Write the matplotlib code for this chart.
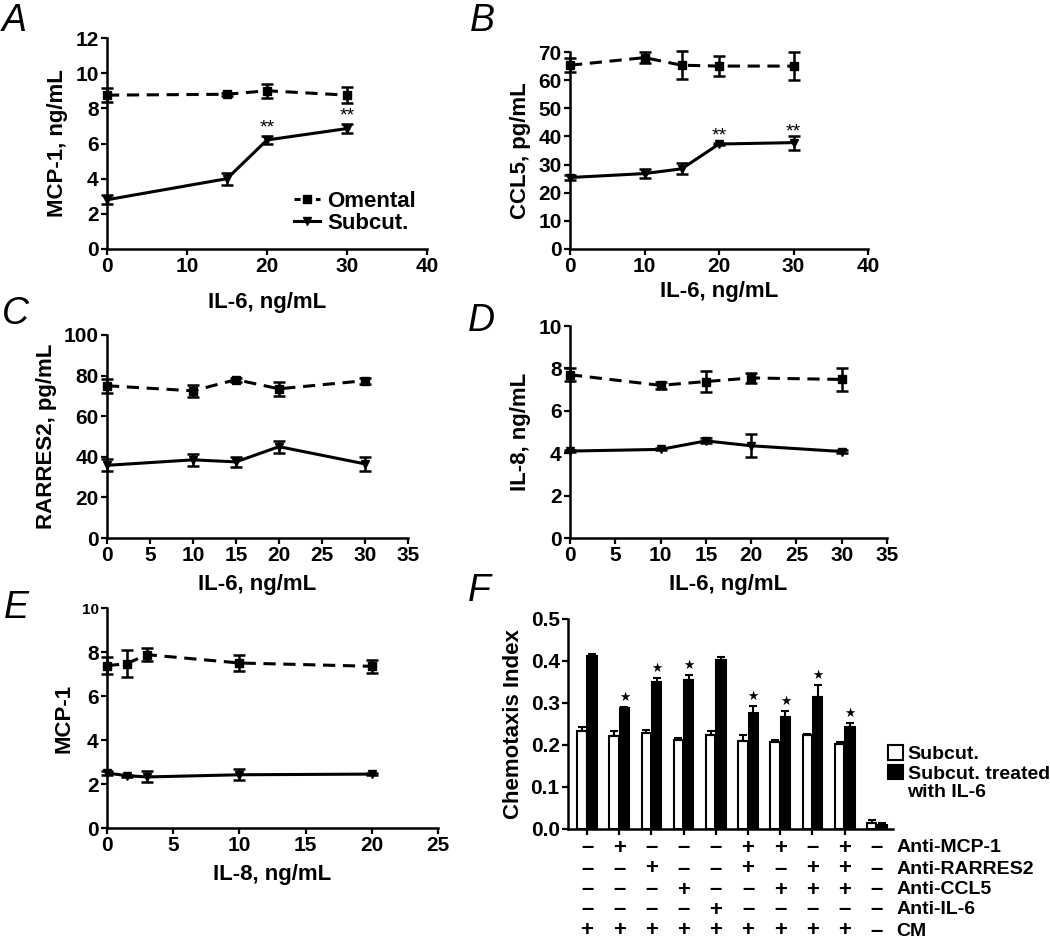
import matplotlib
matplotlib.use("Agg")
import matplotlib.pyplot as plt
import matplotlib.transforms as mtrans
from matplotlib.lines import Line2D
from matplotlib.patches import Patch
import numpy as np

plt.rcParams['font.family'] = ['Liberation Sans', 'DejaVu Sans']
plt.rcParams['font.weight'] = 'bold'
plt.rcParams['axes.labelweight'] = 'bold'

# panel A
a_x = [0, 15, 20, 30]
a_om = [8.75, 8.8, 9.0, 8.75]
a_om_err = [0.4, 0.1, 0.4, 0.45]
a_sc = [2.8, 4.0, 6.2, 6.85]
a_sc_err = [0.25, 0.35, 0.2, 0.25]

# panel B
b_x = [0, 10, 15, 20, 30]
b_om = [65.3, 68.0, 65.3, 65.0, 65.0]
b_om_err = [2.5, 2.0, 5.0, 3.5, 5.0]
b_sc = [25.4, 26.8, 28.5, 37.3, 37.8]
b_sc_err = [1.0, 1.5, 2.0, 0.5, 2.5]

# panel C
c_x = [0, 10, 15, 20, 30]
c_om = [75, 72.5, 78, 73.5, 77.5]
c_om_err = [3.5, 3.0, 1.0, 3.5, 1.5]
c_sc = [35.8, 38.5, 37.5, 45, 36.5]
c_sc_err = [3.0, 3.0, 2.5, 3.0, 3.5]

# panel D
d_x = [0, 10, 15, 20, 30]
d_om = [7.7, 7.2, 7.38, 7.55, 7.48]
d_om_err = [0.3, 0.15, 0.5, 0.25, 0.55]
d_sc = [4.1, 4.18, 4.58, 4.35, 4.08]
d_sc_err = [0.05, 0.05, 0.12, 0.55, 0.05]

# panel E
e_x = [0, 1.5, 3, 10, 20]
e_om = [7.38, 7.47, 7.88, 7.5, 7.35]
e_om_err = [0.4, 0.6, 0.3, 0.35, 0.3]
e_sc = [2.5, 2.38, 2.32, 2.42, 2.45]
e_sc_err = [0.1, 0.05, 0.25, 0.25, 0.05]

# panel F
f_subcut = [0.234, 0.221, 0.229, 0.211, 0.223, 0.210, 0.206, 0.224, 0.202, 0.014]
f_subcut_err = [0.008, 0.012, 0.006, 0.005, 0.011, 0.014, 0.006, 0.002, 0.004, 0.008]
f_il6 = [0.412, 0.287, 0.351, 0.355, 0.402, 0.276, 0.266, 0.315, 0.242, 0.010]
f_il6_err = [0.004, 0.004, 0.009, 0.011, 0.008, 0.016, 0.016, 0.028, 0.011, 0.005]
f_star = [False, True, True, True, False, True, True, True, True, False]
f_rows = ["Anti-MCP-1", "Anti-RARRES2", "Anti-CCL5", "Anti-IL-6", "CM"]
f_table = [
    "-+---++-+-",
    "--+--+-++-",
    "---+--+++-",
    "----+-----",
    "+++++++++-",
]

W, H = 1050, 940
fig = plt.figure(figsize=(W / 100, H / 100), dpi=100)

TICK_FS = 15
LABEL_FS = 16


def px_axes(l, t, r, b):
    return fig.add_axes([l / W, 1 - b / H, (r - l) / W, (b - t) / H])


def style(ax):
    for s in ["top", "right"]:
        ax.spines[s].set_visible(False)
    for s in ["left", "bottom"]:
        ax.spines[s].set_linewidth(1.8)
    ax.tick_params(direction="out", length=4, width=1.6, labelsize=TICK_FS, pad=2)
    for lab in ax.get_xticklabels() + ax.get_yticklabels():
        lab.set_fontweight("bold")


def line_panel(ax, x, om, om_err, sc, sc_err, xlim, ylim, yticks, xticks, ylabel, xlabel, xpad):
    ax.errorbar(x, om, yerr=om_err, color="black", lw=2.2, ls=(0, (4, 2.5)),
                marker="s", ms=5.5, capsize=4, elinewidth=1.8, capthick=1.8,
                clip_on=False)
    ax.errorbar(x, sc, yerr=sc_err, color="black", lw=2.2, ls="-",
                marker="v", ms=6, capsize=4, elinewidth=1.8, capthick=1.8,
                clip_on=False)
    ax.set_xlim(*xlim)
    ax.set_ylim(*ylim)
    ax.set_xticks(xticks)
    ax.set_yticks(yticks)
    ax.set_ylabel(ylabel, fontsize=LABEL_FS, fontweight="bold", labelpad=5)
    ax.set_xlabel(xlabel, fontsize=LABEL_FS, fontweight="bold", labelpad=xpad)
    style(ax)


axA = px_axes(107, 38, 427, 249)
line_panel(axA, a_x, a_om, a_om_err, a_sc, a_sc_err, (0, 40), (0, 12),
           range(0, 13, 2), range(0, 41, 10), "MCP-1, ng/mL", "IL-6, ng/mL", 11)
axA.text(20, 6.6, "**", ha="center", fontsize=14, fontweight="normal")
axA.text(30, 7.3, "**", ha="center", fontsize=14, fontweight="normal")
leg_handles = [Line2D([], [], color="black", lw=2.2, ls=(0, (2, 1.5)), marker="s", ms=5.5),
               Line2D([], [], color="black", lw=2.2, ls="-", marker="v", ms=6)]
leg = axA.legend(leg_handles, ["Omental", "Subcut."], loc="lower right",
                 bbox_to_anchor=(1.0, 0.02), frameon=False,
                 fontsize=LABEL_FS, handlelength=1.2, handletextpad=0.3,
                 labelspacing=0.05, borderpad=0)
for t in leg.get_texts():
    t.set_fontweight("bold")

axB = px_axes(570, 52, 868, 249)
line_panel(axB, b_x, b_om, b_om_err, b_sc, b_sc_err, (0, 40), (0, 70),
           range(0, 71, 10), range(0, 41, 10), "CCL5, pg/mL", "IL-6, ng/mL", 3)
axB.text(20, 38.5, "**", ha="center", fontsize=14, fontweight="normal")
axB.text(30, 40, "**", ha="center", fontsize=14, fontweight="normal")

axC = px_axes(107, 335, 408, 538)
line_panel(axC, c_x, c_om, c_om_err, c_sc, c_sc_err, (0, 35), (0, 100),
           range(0, 101, 20), range(0, 36, 5), "RARRES2, pg/mL", "IL-6, ng/mL", 6)

axD = px_axes(570, 326, 887, 538)
line_panel(axD, d_x, d_om, d_om_err, d_sc, d_sc_err, (0, 35), (0, 10),
           range(0, 11, 2), range(0, 36, 5), "IL-8, ng/mL", "IL-6, ng/mL", 6)

axE = px_axes(107, 608, 438, 828)
line_panel(axE, e_x, e_om, e_om_err, e_sc, e_sc_err, (0, 25), (0, 10),
           range(0, 11, 2), range(0, 26, 5), "MCP-1", "IL-8, ng/mL", 6)
axE.get_yticklabels()[-1].set_fontsize(11)

# panel F
axF = px_axes(568, 619, 893, 829)
idx = np.arange(len(f_subcut))
bw = 0.29
axF.bar(idx - 0.16, f_subcut, bw, yerr=[np.zeros(len(f_subcut)), f_subcut_err],
        color="white", edgecolor="black", linewidth=1.5, capsize=3,
        error_kw=dict(elinewidth=1.5, capthick=1.5))
axF.bar(idx + 0.16, f_il6, bw, yerr=[np.zeros(len(f_il6)), f_il6_err],
        color="black", edgecolor="black", linewidth=1.5, capsize=3,
        error_kw=dict(elinewidth=1.5, capthick=1.5))
for i in idx:
    if f_star[i]:
        axF.text(i + 0.16, f_il6[i] + f_il6_err[i] + 0.007, "★", ha="center",
                 va="bottom", fontsize=9, family=["DejaVu Sans"])
axF.set_xlim(-0.59, 9.5)
axF.set_ylim(0, 0.5)
axF.set_xticks(idx[:-1])
axF.set_xticklabels([])
axF.set_yticks(np.arange(0, 0.51, 0.1))
axF.set_yticklabels(["%.1f" % v for v in np.arange(0, 0.51, 0.1)])
axF.set_ylabel("Chemotaxis Index", fontsize=LABEL_FS, fontweight="bold", labelpad=5)
style(axF)

tr = mtrans.blended_transform_factory(axF.transData, fig.transFigure)
row_y = [848, 869, 890, 910, 931]
for r, (name, signs) in enumerate(zip(f_rows, f_table)):
    yy = 1 - row_y[r] / H
    for i, s in enumerate(signs):
        axF.text(i, yy, "+" if s == "+" else "–", transform=tr, ha="center",
                 va="center", fontsize=16, fontweight="bold", clip_on=False)
    axF.text(9.6, yy, name, transform=tr, ha="left", va="center",
             fontsize=14, fontweight="bold", clip_on=False)

handles = [Patch(facecolor="white", edgecolor="black", linewidth=1.5),
           Patch(facecolor="black", edgecolor="black", linewidth=1.5)]
legF = axF.legend(handles, ["Subcut.", "Subcut. treated"],
                  loc="upper left", bbox_to_anchor=(0.955, 0.445), frameon=False,
                  fontsize=14, handlelength=0.75, handleheight=0.75,
                  handletextpad=0.25, labelspacing=0.1, borderpad=0)
for t in legF.get_texts():
    t.set_fontweight("bold")

# second line of the legend label, under "Subcut. treated"
fig.canvas.draw()
bb = legF.get_texts()[1].get_window_extent()
fig.text(bb.x0 / W, (bb.y0 - 1) / H, "with IL-6", fontsize=14, fontweight="bold",
         ha="left", va="top")

# panel letters
letters = [("A", 2, 3), ("B", 470, 3), ("C", 2, 296), ("D", 468, 303),
           ("E", 4, 590), ("F", 468, 573)]
for lab, x, y in letters:
    fig.text(x / W, 1 - y / H, lab, fontsize=27, style="italic",
             fontweight="normal", ha="left", va="top")

fig.savefig("out.png", dpi=100)
